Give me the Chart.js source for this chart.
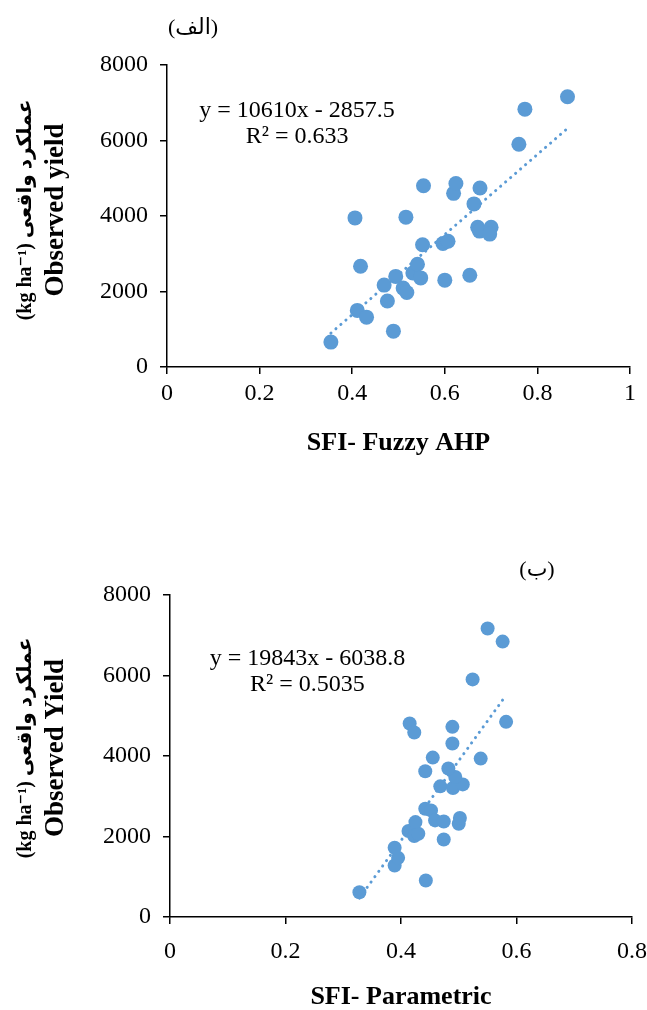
<!DOCTYPE html>
<html>
<head>
<meta charset="utf-8">
<script src="https://cdn.jsdelivr.net/npm/chart.js@4.4.1/dist/chart.umd.min.js"></script>
<style>
  html, body { margin: 0; padding: 0; background: #fff; overflow: hidden; }
  #wrapTop { position: absolute; left: 0; top: 0; width: 647px; height: 480px; }
  #wrapBottom { position: absolute; left: 0; top: 480px; width: 700px; height: 530px; }
</style>
</head>
<body>
<div id="wrapTop"><canvas id="chartTop" width="647" height="480"></canvas></div>
<div id="wrapBottom"><canvas id="chartBottom" width="700" height="530"></canvas></div>
<script>
// --- data ---
const sfiFuzzy = [0.354, 0.406, 0.418, 0.411, 0.431, 0.489, 0.469, 0.476, 0.494, 0.510, 0.518,
  0.516, 0.531, 0.541, 0.548, 0.552, 0.554, 0.596, 0.607, 0.600, 0.619, 0.624, 0.654, 0.663,
  0.676, 0.671, 0.675, 0.700, 0.697, 0.760, 0.773, 0.865];
const yieldFuzzy = [660, 3950, 2670, 1500, 1320, 950, 2170, 1750, 2400, 2090, 1975,
  3970, 2490, 2720, 2360, 3240, 4800, 3270, 3330, 2300, 4600, 4860, 2430, 4320,
  4740, 3700, 3600, 3700, 3520, 5900, 6830, 7160];

const sfiParam = [0.328, 0.443, 0.389, 0.395, 0.389, 0.474, 0.413, 0.423, 0.430, 0.425, 0.442,
  0.452, 0.459, 0.474, 0.500, 0.502, 0.468, 0.490, 0.507, 0.494, 0.482, 0.442, 0.455, 0.538,
  0.489, 0.489, 0.415, 0.423, 0.582, 0.524, 0.550, 0.576];
const yieldParam = [615, 905, 1278, 1470, 1720, 1925, 2135, 2010, 2067, 2358, 2690,
  2648, 2400, 2374, 2316, 2458, 3246, 3205, 3295, 3480, 3690, 3620, 3960, 3935,
  4309, 4724, 4807, 4583, 4849, 5903, 7166, 6842];

// trend line coefficients [slope, intercept]
const trendFuzzy = [10610, -2857.5];
const trendParam = [19843, -6038.8];

const yTicks = [0, 2000, 4000, 6000, 8000];
const xTicksTop = [0, 0.2, 0.4, 0.6, 0.8, 1];
const xTicksBottom = [0, 0.2, 0.4, 0.6, 0.8];

const SERIF = "'Liberation Serif', 'Times New Roman', 'DejaVu Sans', serif";
const DOT = '#5B9BD5';

function trendPoints(xs, coef) {
  const lo = Math.min(...xs), hi = Math.max(...xs);
  return [{ x: lo, y: coef[0] * lo + coef[1] }, { x: hi, y: coef[0] * hi + coef[1] }];
}

// texte supplementari: etichetta pannello, titolo asse y su due righe, equazione
const extraText = {
  id: 'extraText',
  afterDraw(chart, args, o) {
    const { ctx, chartArea, scales } = chart;
    ctx.save();
    ctx.fillStyle = '#000';
    ctx.textAlign = 'center';
    ctx.textBaseline = 'middle';

    ctx.font = '22px ' + SERIF;
    ctx.fillText(o.panel.text, o.panel.x, o.panel.y);

    const cy = (chartArea.top + chartArea.bottom) / 2 + (o.yTitleShift || 0);
    o.yTitle.forEach(line => {
      ctx.save();
      ctx.translate(line.x, cy);
      ctx.rotate(-Math.PI / 2);
      ctx.font = line.font;
      ctx.fillText(line.text, 0, 0);
      ctx.restore();
    });

    ctx.font = '24px ' + SERIF;
    const ex = scales.x.getPixelForValue(o.eq.x);
    o.eq.lines.forEach((t, i) => {
      ctx.fillText(t, ex, scales.y.getPixelForValue(o.eq.y[i]));
    });
    ctx.restore();
  }
};

function makeChart(id, cfg) {
  return new Chart(document.getElementById(id), {
    type: 'scatter',
    data: {
      datasets: [{
        data: cfg.xs.map((x, i) => ({ x: x, y: cfg.ys[i] })),
        backgroundColor: DOT,
        borderWidth: 0,
        pointRadius: cfg.r,
        pointHoverRadius: cfg.r,
        order: 1
      }, {
        type: 'line',
        data: trendPoints(cfg.xs, cfg.coef),
        borderColor: DOT,
        borderWidth: 3,
        borderDash: [0.1, 6.5],
        borderCapStyle: 'round',
        pointRadius: 0,
        fill: false,
        order: 2
      }]
    },
    options: {
      responsive: false,
      animation: false,
      events: [],
      layout: { padding: cfg.pad },
      plugins: {
        legend: { display: false },
        tooltip: { enabled: false },
        extraText: cfg.text
      },
      scales: {
        x: {
          type: 'linear',
          min: 0,
          max: cfg.xMax,
          afterBuildTicks: s => { s.ticks = cfg.xTicks.map(v => ({ value: v })); },
          afterFit: s => { s.height = cfg.xHeight; },
          ticks: { font: { family: SERIF, size: 24 }, color: '#000', padding: cfg.xTickPad, maxRotation: 0,
                   callback: v => String(v) },
          grid: { drawOnChartArea: false, drawTicks: true, tickLength: 7, color: '#000', lineWidth: 1.5 },
          border: { color: '#000', width: 1.5 },
          title: { display: true, text: cfg.xTitle, color: '#000',
                   font: { family: SERIF, size: 26, weight: 'bold', lineHeight: 1 },
                   padding: { top: 0, bottom: cfg.xTitlePad } }
        },
        y: {
          min: 0,
          max: 8000,
          afterBuildTicks: s => { s.ticks = yTicks.map(v => ({ value: v })); },
          afterFit: s => { s.width = cfg.yWidth; },
          ticks: { font: { family: SERIF, size: 24 }, color: '#000', padding: 12,
                   callback: v => String(v) },
          grid: { drawOnChartArea: false, drawTicks: true, tickLength: 7, color: '#000', lineWidth: 1.5 },
          border: { color: '#000', width: 1.5 }
        }
      }
    },
    plugins: [extraText]
  });
}

makeChart('chartTop', {
  xs: sfiFuzzy, ys: yieldFuzzy, coef: trendFuzzy, r: 7.5,
  xMax: 1, xTicks: xTicksTop, xTitle: 'SFI- Fuzzy AHP',
  pad: { top: 65, right: 17, left: 0, bottom: 0 },
  yWidth: 167, xHeight: 113, xTickPad: 5, xTitlePad: 24,
  text: {
    panel: { text: '(الف)', x: 193, y: 28 },
    yTitle: [
      { text: '(kg ha⁻¹) عملکرد واقعی', x: 26, font: 'bold 20px ' + SERIF },
      { text: 'Observed yield', x: 56, font: 'bold 27px ' + SERIF }
    ],
    yTitleShift: -6,
    eq: { x: 0.281, y: [6800, 6090], lines: ['y = 10610x - 2857.5', 'R² = 0.633'] }
  }
});

makeChart('chartBottom', {
  xs: sfiParam, ys: yieldParam, coef: trendParam, r: 7,
  xMax: 0.8, xTicks: xTicksBottom, xTitle: 'SFI- Parametric',
  pad: { top: 115, right: 68, left: 0, bottom: 0 },
  yWidth: 170, xHeight: 93, xTickPad: 13, xTitlePad: 0,
  text: {
    panel: { text: '(ب)', x: 537, y: 90 },
    yTitle: [
      { text: '(kg ha⁻¹) عملکرد واقعی', x: 26, font: 'bold 20px ' + SERIF },
      { text: 'Observed Yield', x: 56, font: 'bold 27px ' + SERIF }
    ],
    yTitleShift: -8,
    eq: { x: 0.238, y: [6420, 5780], lines: ['y = 19843x - 6038.8', 'R² = 0.5035'] }
  }
});
</script>
</body>
</html>
